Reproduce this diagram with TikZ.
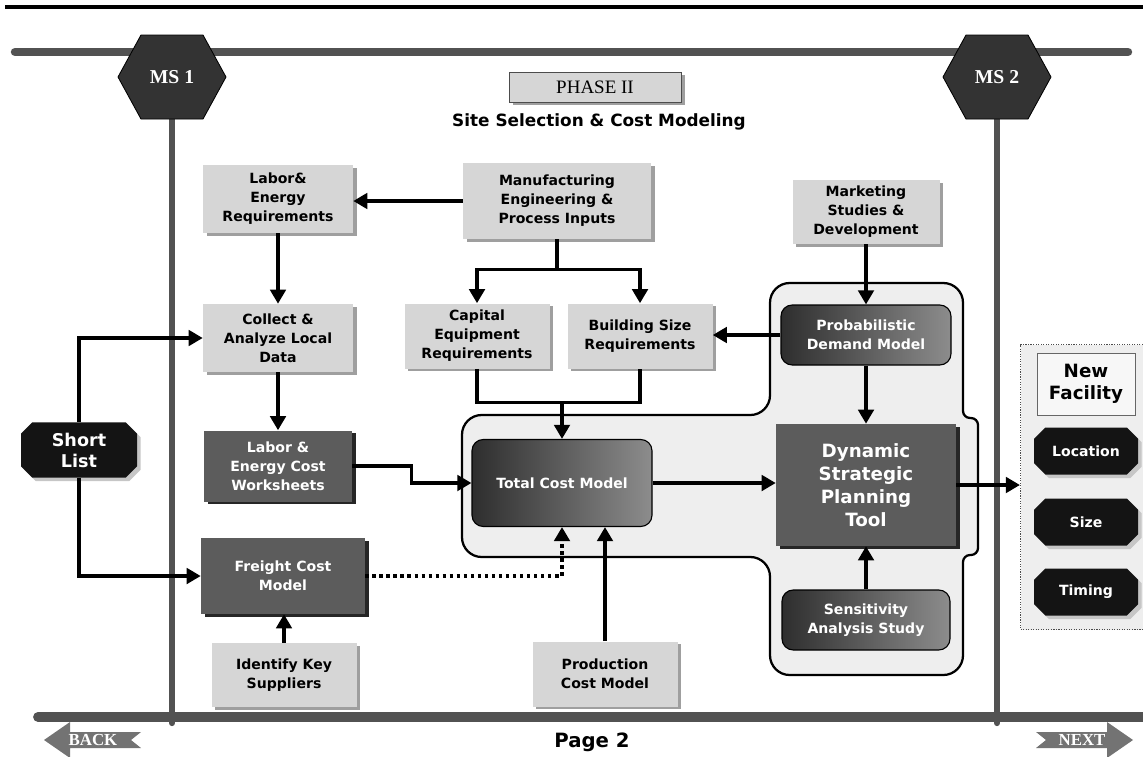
\documentclass[tikz,border=0pt]{standalone}
\usepackage{fontspec}
\setmainfont{DejaVu Sans}
\newfontfamily\serifface{Liberation Serif}
\usetikzlibrary{arrows.meta,shapes.misc,shadows}

\newdimen\pxu
\pxu=0.025cm

\tikzset{
  rail/.style={line width=6pt, draw=black!68, line cap=round},
  hexa/.style={fill=black!80, draw=black, line width=0.6pt},
  mslabel/.style={text=white, font=\serifface\bfseries\fontsize{14}{16}\selectfont},
  lightbox/.style={rectangle, fill=gray!32, align=center, inner sep=1pt,
    font=\bfseries\fontsize{10}{13.5}\selectfont,
    drop shadow={shadow xshift=2.5pt, shadow yshift=-2pt, fill=gray!75, opacity=1}},
  darkbox/.style={lightbox, fill=black!64, text=white,
    drop shadow={shadow xshift=2.5pt, shadow yshift=-2pt, fill=black!85, opacity=1}},
  gradbox/.style={rectangle, rounded corners=8pt, draw=black, line width=0.8pt,
    left color=black!82, right color=black!45, text=white, align=center,
    font=\bfseries\fontsize{10}{13.5}\selectfont},
  tagbox/.style={chamfered rectangle, chamfered rectangle xsep=4pt, chamfered rectangle ysep=4pt,
    fill=black!92, text=white, align=center,
    drop shadow={shadow xshift=2.5pt, shadow yshift=-2.5pt, fill=gray!45, opacity=1}},
  container/.style={fill=gray!13, draw=black, line width=1.6pt},
  panel/.style={rectangle, fill=gray!13, draw=black!70, line width=0.8pt, densely dotted},
  conn/.style={line width=2.4pt, -{Triangle[length=10pt,width=11pt]}},
  link/.style={line width=2.4pt},
  dotconn/.style={conn, dash pattern=on 2.4pt off 2.6pt},
  navarrow/.style={fill=black!55},
  navtext/.style={text=white, font=\serifface\bfseries\fontsize{12}{13}\selectfont}
}

\begin{document}
\begin{tikzpicture}[x=0.025cm, y=-0.025cm]
\useasboundingbox (0,0) rectangle (1143,756);

% milestone rails
\coordinate (ms1pos) at (172,77);
\coordinate (ms2pos) at (997,77);
\draw[line width=3pt] (5,7) -- (1150,7);
\draw[rail] (15,52) -- (1128,52);
\draw[rail, line width=7pt] (38,717) -- (1160,717);
\draw[rail, line width=4.5pt] (ms1pos) -- (172,723);
\draw[rail, line width=4.5pt] (ms2pos) -- (997,723);

\fill[hexa] (ms1pos) +(-54,0) -- +(-31,-42) -- +(31,-42) -- +(54,0) -- +(31,42) -- +(-31,42) -- cycle;
\fill[hexa] (ms2pos) +(-54,0) -- +(-31,-42) -- +(31,-42) -- +(54,0) -- +(31,42) -- +(-31,42) -- cycle;
\node[mslabel] (ms1) at (ms1pos) {MS 1};
\node[mslabel] (ms2) at (ms2pos) {MS 2};

% title
\node[lightbox, draw=black!70, line width=0.6pt, minimum width=172\pxu, minimum height=30\pxu,
  font=\serifface\fontsize{13.5}{15}\selectfont] (phase) at (595,87) {PHASE II};
\node[font=\bfseries\fontsize{12}{14}\selectfont] (title) at (599,122) {Site Selection \& Cost Modeling};

% model containers
\draw[container, rounded corners=14pt] (770,415) -- (770,283) -- (963,283)
  [rounded corners=5pt] -- (963,418) -- (978,418) -- (978,555) -- (963,555)
  [rounded corners=14pt] -- (963,675) -- (770,675) -- (770,557) -- (462,557) -- (462,415) -- cycle;
\node[panel, minimum width=125\pxu, minimum height=285\pxu] (outcome) at (1083,487) {};

% input boxes
\node[lightbox, minimum width=150\pxu, minimum height=68\pxu] (laborreq) at (278,199) {Labor\&\\Energy\\Requirements};
\node[lightbox, minimum width=188\pxu, minimum height=76\pxu] (mfg) at (557,201) {Manufacturing\\Engineering \&\\Process Inputs};
\node[lightbox, minimum width=147\pxu, minimum height=64\pxu] (marketing) at (866,212) {Marketing\\Studies \&\\Development};
\node[lightbox, minimum width=150\pxu, minimum height=68\pxu] (collect) at (278,338) {Collect \&\\Analyze Local\\Data};
\node[lightbox, minimum width=145\pxu, minimum height=65\pxu] (capital) at (477,336) {Capital\\Equipment\\Requirements};
\node[lightbox, minimum width=145\pxu, minimum height=65\pxu] (building) at (640,336) {Building Size\\Requirements};
\node[lightbox, minimum width=145\pxu, minimum height=64\pxu] (suppliers) at (284,675) {Identify Key\\Suppliers};
\node[lightbox, minimum width=145\pxu, minimum height=65\pxu] (production) at (605,674) {Production\\Cost Model};
\node[darkbox, minimum width=148\pxu, minimum height=71\pxu] (laborcost) at (278,466) {Labor \&\\Energy Cost\\Worksheets};
\node[darkbox, minimum width=164\pxu, minimum height=76\pxu] (freight) at (283,576) {Freight Cost\\Model};

% models
\node[gradbox, minimum width=180\pxu, minimum height=87\pxu] (totalcost) at (562,483) {Total Cost Model};
\node[gradbox, minimum width=170\pxu, minimum height=60\pxu] (demand) at (866,335) {Probabilistic\\Demand Model};
\node[gradbox, minimum width=168\pxu, minimum height=60\pxu] (sensitivity) at (866,620) {Sensitivity\\Analysis Study};
\node[darkbox, minimum width=180\pxu, minimum height=122\pxu,
  font=\bfseries\fontsize{13}{16.5}\selectfont] (dsp) at (866,485) {Dynamic\\Strategic\\Planning\\Tool};

% outcomes
\node[tagbox, minimum width=116\pxu, minimum height=50\pxu, font=\bfseries\fontsize{12.5}{15}\selectfont] (shortlist) at (79,450) {Short\\List};
\node[rectangle, fill=gray!6, draw=black!60, line width=0.6pt, minimum width=98\pxu, minimum height=62\pxu,
  align=center, font=\bfseries\fontsize{13}{16}\selectfont] (newfac) at (1086,384) {New\\Facility};
\node[tagbox, minimum width=104\pxu, minimum height=47\pxu, font=\bfseries\fontsize{10}{12}\selectfont] (location) at (1086,451) {Location};
\node[tagbox, minimum width=104\pxu, minimum height=47\pxu, font=\bfseries\fontsize{10}{12}\selectfont] (size) at (1086,522) {Size};
\node[tagbox, minimum width=104\pxu, minimum height=47\pxu, font=\bfseries\fontsize{10}{12}\selectfont] (timing) at (1086,592) {Timing};

% connectors
\draw[conn] (mfg.west) -- (mfg.west -| laborreq.east);
\draw[conn] (laborreq.south) -- (collect.north);
\draw[conn] (collect.south) -- (laborcost.north);
\draw[conn] (mfg.south) -- ++(0,30) -| (capital.north);
\draw[conn] (mfg.south) -- ++(0,30) -| (building.north);
\draw[link] (capital.south) -- ++(0,34) -| (building.south);
\draw[conn] (totalcost.north |- capital.south) ++(0,34) -- (totalcost.north);
\draw[conn] (laborcost.east) -- ++(59,0) |- (totalcost.west);
\draw[dotconn] (freight.east) -| (totalcost.south);
\draw[conn] (production.north) -- (production.north |- totalcost.south);
\draw[conn] (totalcost.east) -- (totalcost.east -| dsp.west);
\draw[conn] (marketing.south) -- (marketing.south |- demand.north);
\draw[conn] (demand.west) -- (demand.west -| building.east);
\draw[conn] (demand.south) -- (demand.south |- dsp.north);
\draw[conn] (sensitivity.north) -- (sensitivity.north |- dsp.south);
\draw[conn] (dsp.east) -- (dsp.east -| outcome.west);
\draw[conn] (shortlist.north) |- (collect.west);
\draw[conn] (shortlist.south) |- (freight.west);
\draw[conn] (suppliers.north) -- (suppliers.north |- freight.south);

% page navigation
\fill[navarrow] (44,740) -- (70,722) -- (70,732) -- (141,732) -- (131,740) -- (141,748) -- (70,748) -- (70,758) -- cycle;
\fill[navarrow] (1133,740) -- (1107,722) -- (1107,732) -- (1036,732) -- (1046,740) -- (1036,748) -- (1107,748) -- (1107,758) -- cycle;
\node[navtext] (back) at (93,740) {BACK};
\node[navtext] (next) at (1082,740) {NEXT};
\node[font=\bfseries\fontsize{14}{16}\selectfont] (page) at (592,742) {Page 2};
\end{tikzpicture}
\end{document}
